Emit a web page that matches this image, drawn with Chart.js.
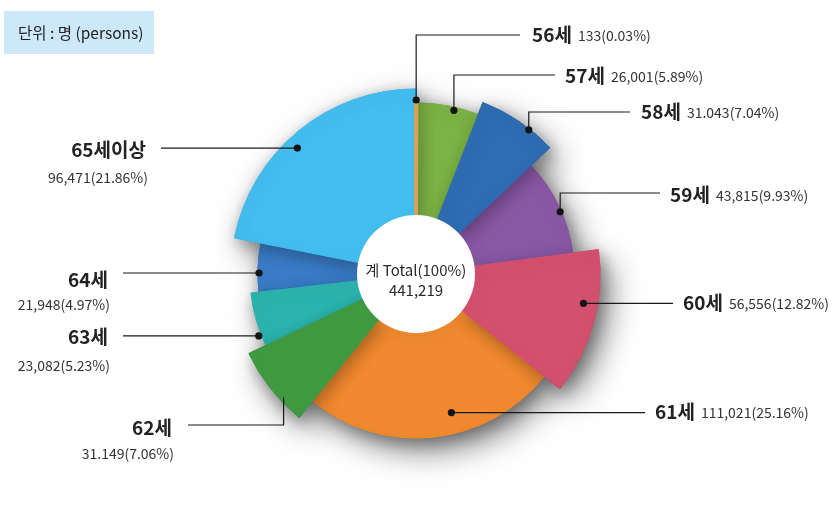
<!DOCTYPE html>
<html>
<head>
<meta charset="utf-8">
<script src="https://cdn.jsdelivr.net/npm/chart.js@4.4.1/dist/chart.umd.min.js"></script>
<style>
  html, body { margin: 0; padding: 0; background: #ffffff; }
  #wrap { position: relative; width: 834px; height: 506px; }
  canvas { display: block; }
</style>
</head>
<body>
<div id="wrap"><canvas id="c" width="834" height="506"></canvas></div>
<script>
// ---- DATA ----
const ageLabels = ['56세', '57세', '58세', '59세', '60세', '61세', '62세', '63세', '64세', '65세이상'];
const persons = [133, 26001, 31043, 43815, 56556, 111021, 31149, 23082, 21948, 96471];
const countText = ['133', '26,001', '31.043', '43,815', '56,556', '111,021', '31.149', '23,082', '21,948', '96,471'];
const shareText = ['0.03%', '5.89%', '7.04%', '9.93%', '12.82%', '25.16%', '7.06%', '5.23%', '4.97%', '21.86%'];
const totalText = ['계 Total(100%)', '441,219'];
const unitText = '단위 : 명 (persons)';

// ---- STYLE ----
const sliceColors = ['#D9A05B', '#7BB344', '#2E6CB3', '#8858A5', '#D4506F', '#F0892F', '#3F9B42', '#2BB4AF', '#3A7CC7', '#43BEEF'];
const sliceRadius = [176, 171, 184, 158, 184, 164, 185, 166, 158, 185];
const borderW = [4, 1, 1, 1, 1, 1, 1, 1, 1, 1];
// label anchor on slice: fraction of slice angle, radius (px)
const anchorT = [0.5, 0.61, 0.66, 0.56, 0.38, 0.41, 0.31, 0.21, 0.39, 0.45];
const anchorR = [174, 168, 183, 157, 170, 143, 181, 169, 157, 173];
// label layout
const labelLayout = [
  {side: 'r', x: 532, y: 35, elbow: 35, end: 520, dot: true},
  {side: 'r', x: 565, y: 76, elbow: 75, end: 555, dot: true},
  {side: 'r', x: 641, y: 112, elbow: 112, end: 630, dot: true},
  {side: 'r', x: 670, y: 195, elbow: 193, end: 660, dot: true},
  {side: 'r', x: 683, y: 303, elbow: null, end: 673, dot: true},
  {side: 'r', x: 655, y: 412, elbow: null, end: 645, dot: true},
  {side: 'l', x: 172, y: 428, vy: 454, elbow: 425, end: 188, dot: false},
  {side: 'l', x: 108, y: 337, vy: 366, elbow: null, end: 123, dot: true},
  {side: 'l', x: 108, y: 280, vy: 305, elbow: null, end: 123, dot: true},
  {side: 'l', x: 146, y: 150, vy: 178, elbow: null, end: 161, dot: true}
];
const FONT = "'Noto Sans CJK KR', 'Noto Sans', sans-serif";

const shapePlugin = {
  id: 'shape',
  beforeDatasetsDraw(chart) {
    const meta = chart.getDatasetMeta(0);
    meta.data.forEach((arc, i) => { arc.outerRadius = sliceRadius[i]; });
    const ctx = chart.ctx;
    // exterior drop shadow
    ctx.save();
    ctx.shadowColor = 'rgba(0,0,0,0.5)';
    ctx.shadowBlur = 32;
    ctx.shadowOffsetX = 9;
    ctx.shadowOffsetY = 12;
    meta.data.forEach(arc => arc.draw(ctx));
    ctx.restore();
    // slices: smaller first, larger ones cast soft shadows on neighbours
    const order = meta.data.map((a, i) => i).slice(1).sort((a, b) => sliceRadius[a] - sliceRadius[b]);
    order.forEach(i => {
      ctx.save();
      ctx.shadowColor = 'rgba(0,0,0,0.28)';
      ctx.shadowBlur = 16;
      ctx.shadowOffsetX = 3;
      ctx.shadowOffsetY = 5;
      meta.data[i].draw(ctx);
      ctx.restore();
    });
    meta.data[0].draw(ctx);
    const a0 = meta.data[0];
    ctx.save();
    ctx.fillStyle = '#ffffff';
    ctx.beginPath();
    ctx.arc(a0.x, a0.y, a0.innerRadius, 0, Math.PI * 2);
    ctx.fill();
    ctx.restore();
    return false;
  },
  afterDraw(chart) {
    const ctx = chart.ctx;
    const meta = chart.getDatasetMeta(0);
    const cx = meta.data[0].x, cy = meta.data[0].y;
    ctx.save();
    // unit box
    ctx.fillStyle = '#CDE8F9';
    ctx.fillRect(4, 11, 150, 43);
    ctx.fillStyle = '#222';
    ctx.font = '15.5px ' + FONT;
    ctx.textBaseline = 'middle';
    ctx.textAlign = 'left';
    ctx.fillText(unitText, 18, 33);
    // center text
    ctx.textAlign = 'center';
    ctx.fillStyle = '#2a2a2a';
    ctx.font = '15px ' + FONT;
    ctx.fillText(totalText[0], cx, cy - 4);
    ctx.fillText(totalText[1], cx, cy + 16);
    // labels
    meta.data.forEach((arc, i) => {
      const L = labelLayout[i];
      const ang = arc.startAngle + (arc.endAngle - arc.startAngle) * anchorT[i];
      const px = arc.x + Math.cos(ang) * anchorR[i];
      const py = arc.y + Math.sin(ang) * anchorR[i];
      ctx.strokeStyle = '#1a1a1a';
      ctx.lineWidth = 1.2;
      ctx.beginPath();
      ctx.moveTo(px, py);
      if (L.elbow !== null) {
        ctx.lineTo(px, L.elbow);
        ctx.lineTo(L.end, L.elbow);
      } else {
        ctx.lineTo(L.end, py);
      }
      ctx.stroke();
      if (L.dot) {
        ctx.fillStyle = '#141414';
        ctx.beginPath();
        ctx.arc(px, py, 3.6, 0, Math.PI * 2);
        ctx.fill();
      }
      const valStr = countText[i] + '(' + shareText[i] + ')';
      ctx.textBaseline = 'middle';
      if (L.side === 'r') {
        ctx.textAlign = 'left';
        ctx.font = 'bold 19px ' + FONT;
        ctx.fillStyle = '#222';
        ctx.fillText(ageLabels[i], L.x, L.y);
        const w = ctx.measureText(ageLabels[i]).width;
        ctx.font = '14px ' + FONT;
        ctx.fillStyle = '#333';
        ctx.fillText(valStr, L.x + w + 6, L.y + 1);
      } else {
        ctx.textAlign = 'right';
        ctx.font = 'bold 19px ' + FONT;
        ctx.fillStyle = '#222';
        ctx.fillText(ageLabels[i], L.x, L.y);
        ctx.font = '14px ' + FONT;
        ctx.fillStyle = '#333';
        ctx.fillText(valStr, L.x + 2, L.vy);
      }
    });
    ctx.restore();
  }
};

new Chart(document.getElementById('c'), {
  type: 'doughnut',
  data: {
    labels: ageLabels,
    datasets: [{
      data: persons,
      backgroundColor: sliceColors,
      borderColor: sliceColors,
      borderWidth: borderW
    }]
  },
  options: {
    responsive: false,
    animation: false,
    events: [],
    rotation: 0,
    cutout: 59,
    layout: { padding: { left: 231, right: 233, top: 89, bottom: 47 } },
    plugins: { legend: { display: false }, tooltip: { enabled: false } }
  },
  plugins: [shapePlugin]
});
</script>
</body>
</html>
